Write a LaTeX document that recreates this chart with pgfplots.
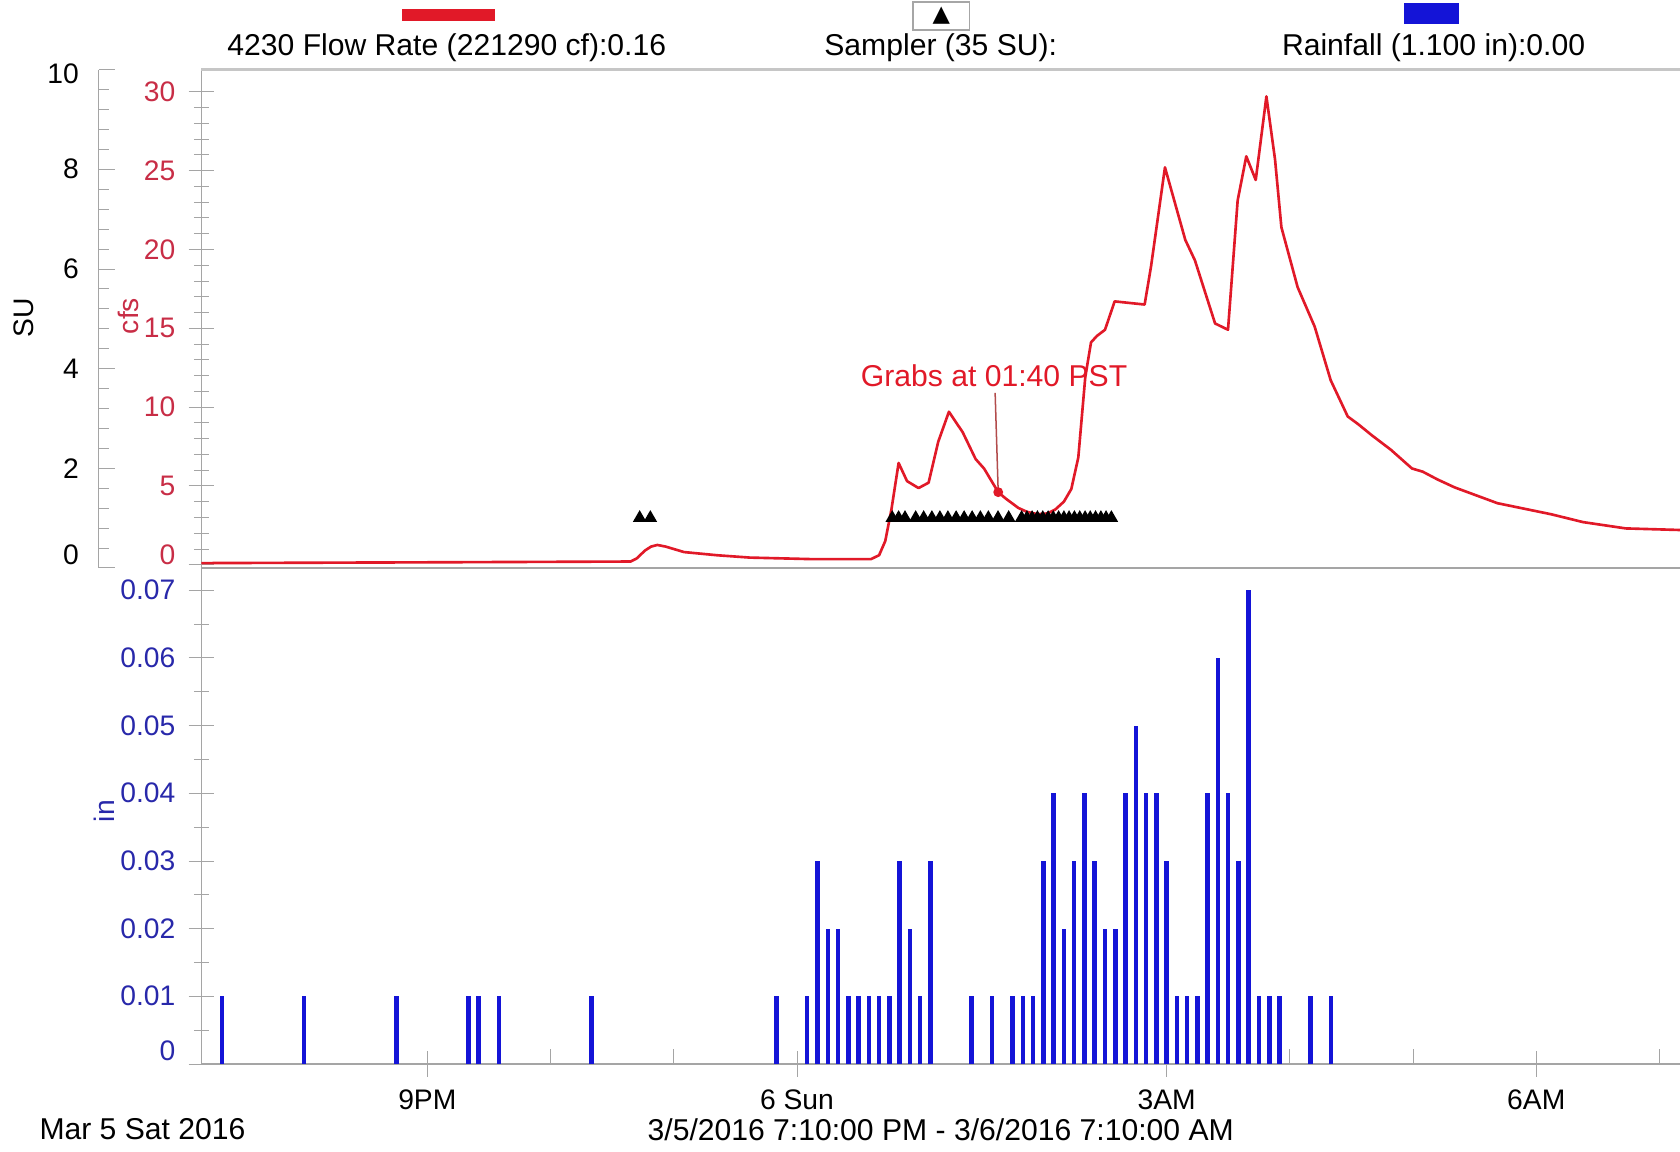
\documentclass[border=0pt]{standalone}
\usepackage{fontspec}
\setmainfont{Liberation Sans}
\newfontfamily\symfont{DejaVu Sans}
\usepackage{pgfplots}
\pgfplotsset{compat=1.18}

\definecolor{flowred}{RGB}{225,25,40}
\definecolor{cfsred}{RGB}{200,45,70}
\definecolor{rainblue}{RGB}{20,20,215}
\definecolor{inblue}{RGB}{40,40,170}
\definecolor{axgray}{RGB}{165,165,165}

\pgfplotsset{
  /pgf/number format/assume math mode=true,
  panel/.style={
    scale only axis, width=13.80cm,
    xmin=-290, xmax=430,
    axis x line=bottom, axis y line=left,
    axis line style={draw=axgray, -},
    tick style={draw=axgray},
    tick label style={font=\fontsize{7.5}{9}\selectfont},
    tick align=center,
    major tick length=2.4mm, minor tick length=1.4mm,
    scaled y ticks=false,
  },
}

\begin{document}
\begin{tikzpicture}[font=\fontsize{8}{9.5}\selectfont]
\useasboundingbox (0,0) rectangle (15.68,10.75);

% flow rate panel (cfs)
\begin{axis}[panel, at={(1.88cm,5.45cm)}, height=4.65cm,
  ymin=-0.2, ymax=31.4,
  xtick=\empty,
  ytick={0,5,10,15,20,25,30}, minor y tick num=4,
  yticklabels={\raisebox{1.8mm}{0},5,10,15,20,25,30},
  yticklabel style={text=cfsred},
]
\addplot[flowred, line width=0.7pt, line join=round] coordinates {
(-290,0.10)(-180,0.15)(-81,0.20)(-78,0.4)(-74,0.9)(-71,1.15)(-68,1.25)(-64,1.15)(-55,0.8)
(-39,0.6)(-23,0.45)(8,0.35)(36,0.35)(40,0.6)(43,1.5)(46,3.5)(49.5,6.45)(53.6,5.3)
(59.2,4.86)(64.1,5.2)(68.8,7.8)(74,9.7)(80.7,8.4)(87,6.7)(91.1,6.1)(98,4.6)
(101.6,4.2)(107.8,3.6)(112,3.35)(117.2,3.2)(122,3.25)(125.8,3.5)(130,4.0)(133.6,4.8)
(137,6.8)(140.4,11.9)(143.2,14.1)(146,14.5)(150,14.9)(154.7,16.7)(169.3,16.5)(172.4,18.9)
(179.2,25.2)(189.1,20.6)(193.8,19.3)(203.6,15.3)(209.9,14.9)(214.6,23.1)(218.8,25.9)
(223.4,24.4)(228.6,29.7)(232.8,25.7)(235.9,21.4)(243.8,17.6)(252.1,15.1)(259.9,11.7)
(268.2,9.4)(273.4,8.9)(280,8.2)(289.1,7.3)(299.5,6.1)(304.7,5.9)(312,5.4)(320.3,4.9)
(341.1,3.9)(367.2,3.2)(382.8,2.7)(403.6,2.3)(430,2.2)
};
\addplot[only marks, mark=*, mark size=1.1pt, flowred] coordinates {(98,4.6)};
\draw[gray!60!red, thin] (axis cs:96.5,10.9) -- (axis cs:98,4.6);
\node[text=flowred] at (axis cs:96,12.0) {Grabs at 01:40 PST};
\end{axis}

% sampler overlay (SU)
\begin{axis}[scale only axis, width=13.80cm, height=4.65cm, at={(1.88cm,5.45cm)},
  xmin=-290, xmax=430, ymin=0, ymax=10, hide axis]
\addplot[only marks, mark=triangle*, mark size=1.7pt, black] coordinates {
(-76.6,1)(-71.4,1)(46.4,1)(49.5,1)(52.6,1)(57.8,1)(61.7,1)(65.7,1)(69.6,1)(73.5,1)
(77.5,1)(81.4,1)(85.3,1)(89.3,1)(93.2,1)(97.9,1)(103.1,1)(109.4,1)(112.0,1)(114.5,1)
(117.1,1)(119.7,1)(122.3,1)(124.8,1)(127.4,1)(130.0,1)(132.5,1)(135.1,1)(137.7,1)
(140.3,1)(142.8,1)(145.4,1)(148.0,1)(150.5,1)(153.1,1)
};
\end{axis}

% SU scale
\begin{axis}[scale only axis, width=0.2cm, height=4.65cm, at={(0.92cm,5.45cm)},
  xmin=0, xmax=1, ymin=0, ymax=10,
  hide x axis, axis y line=left,
  axis line style={draw=axgray, -}, tick style={draw=axgray},
  tick label style={font=\fontsize{7.5}{9}\selectfont},
  yticklabel style={xshift=-0.6mm},
  ytick={0,2,4,6,8,10}, minor y tick num=4,
  yticklabels={\raisebox{2.4mm}{0},2,4,6,8,\raisebox{-2.6mm}{10}},
  tick align=inside, major tick length=1.5mm, minor tick length=1.0mm,
]
\addplot[draw=none] coordinates {(0,0)};
\end{axis}

% rainfall panel (in)
\begin{axis}[panel, at={(1.88cm,0.82cm)}, height=4.63cm,
  ymin=0, ymax=0.0733,
  ytick={0,0.01,0.02,0.03,0.04,0.05,0.06,0.07},
  yticklabels={\raisebox{2.4mm}{0},0.01,0.02,0.03,0.04,0.05,0.06,0.07},
  minor y tick num=1,
  yticklabel style={text=inblue},
  xtick={-180,0,180,360},
  xticklabels={9PM,6 Sun,3AM,6AM},
  minor xtick={-240,-120,-60,60,120,240,300,420},
  minor x tick style={yshift=0.7mm},
]
\addplot[ycomb, rainblue, line width=1.2pt] coordinates {
(-280,0.01)(-240,0.01)(-195,0.01)(-160,0.01)(-155,0.01)(-145,0.01)(-100,0.01)
(-10,0.01)(5,0.01)(10,0.03)(15,0.02)(20,0.02)(25,0.01)(30,0.01)(35,0.01)(40,0.01)
(45,0.01)(50,0.03)(55,0.02)(60,0.01)(65,0.03)(85,0.01)(95,0.01)(105,0.01)(110,0.01)
(115,0.01)(120,0.03)(125,0.04)(130,0.02)(135,0.03)(140,0.04)(145,0.03)(150,0.02)
(155,0.02)(160,0.04)(165,0.05)(170,0.04)(175,0.04)(180,0.03)(185,0.01)(190,0.01)
(195,0.01)(200,0.04)(205,0.06)(210,0.04)(215,0.03)(220,0.07)(225,0.01)(230,0.01)
(235,0.01)(250,0.01)(260,0.01)
};
\end{axis}

% header
\draw[gray!45, line width=1pt] (1.88,10.10) -- (15.68,10.10);
\fill[flowred] (3.75,10.67) rectangle (4.62,10.55);
\node at (4.17,10.30) {4230 Flow Rate (221290 cf):0.16};
\draw[gray!70] (8.52,10.73) rectangle (9.05,10.47);
\node at (8.785,10.60) {\symfont\fontsize{6}{7}\selectfont ▲};
\node at (8.78,10.30) {Sampler (35 SU):};
\fill[rainblue] (13.10,10.72) rectangle (13.62,10.53);
\node at (13.38,10.30) {Rainfall (1.100 in):0.00};

% axis titles
\node[rotate=90, font=\fontsize{7.5}{9}\selectfont] at (0.22,7.78) {SU};
\node[rotate=90, text=cfsred, font=\fontsize{7.5}{9}\selectfont] at (1.20,7.80) {cfs};
\node[rotate=90, text=inblue, font=\fontsize{7.5}{9}\selectfont] at (0.97,3.18) {in};

% footer
\node at (1.33,0.21) {Mar 5 Sat 2016};
\node at (8.78,0.21) {3/5/2016 7:10:00 PM - 3/6/2016 7:10:00 AM};
\end{tikzpicture}
\end{document}
